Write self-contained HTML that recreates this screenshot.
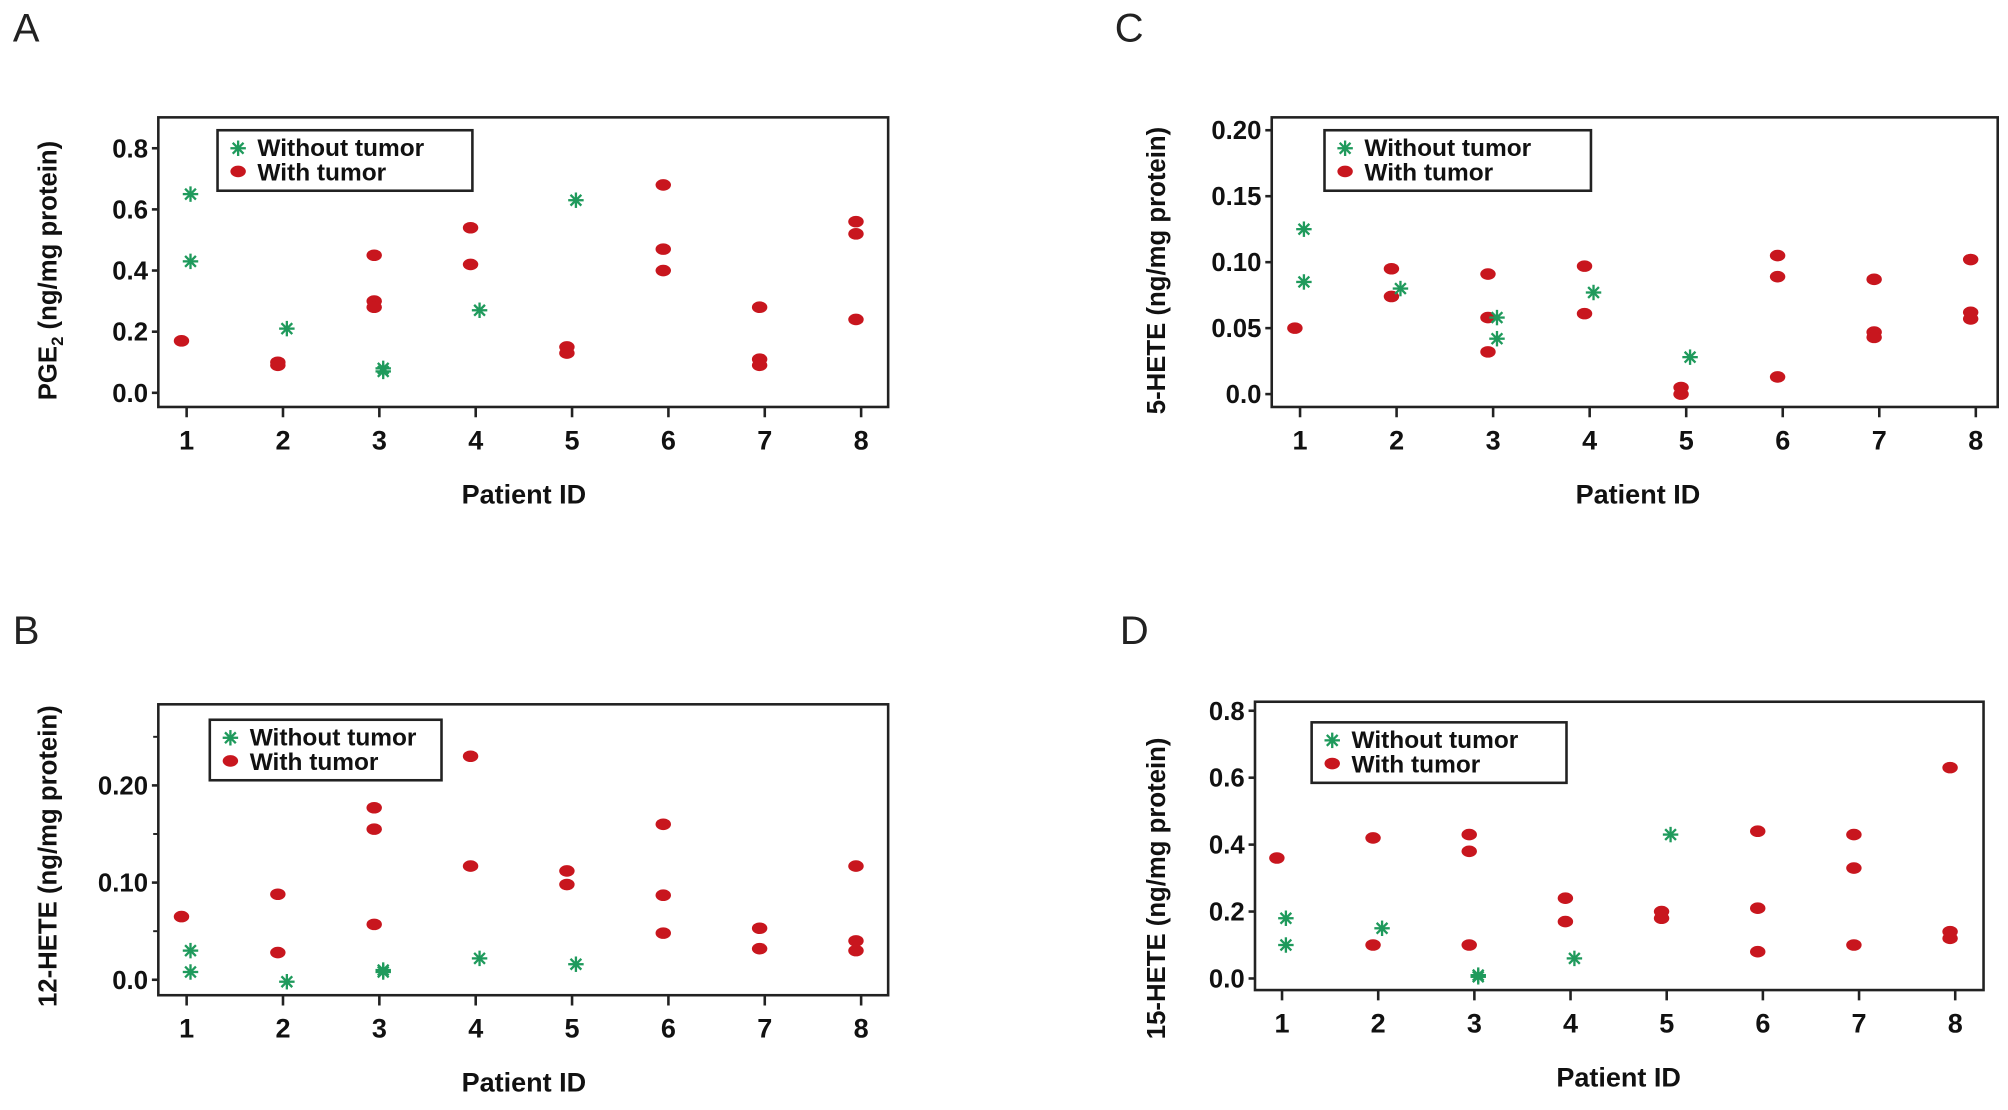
<!DOCTYPE html>
<html><head><meta charset="utf-8"><style>
html,body{margin:0;padding:0;background:#fff}
svg{display:block}
text{font-family:"Liberation Sans",sans-serif}
</style></head><body>
<svg id="fig" width="2008" height="1110" viewBox="0 0 1560 862" xmlns="http://www.w3.org/2000/svg"></svg>
<script>
const categories = [1,2,3,4,5,6,7,8];
// Panel A PGE2
const aWithoutX = [1,1,2,3,3,4,5];
const aWithoutY = [0.65,0.43,0.21,0.07,0.08,0.27,0.63];
const aWithX = [1,2,2,3,3,3,4,4,5,5,6,6,6,7,7,7,8,8,8];
const aWithY = [0.17,0.09,0.10,0.45,0.30,0.28,0.54,0.42,0.15,0.13,0.68,0.47,0.40,0.28,0.11,0.09,0.56,0.52,0.24];
const aTicks = [0.0,0.2,0.4,0.6,0.8];
const aTickLabels = ["0.0","0.2","0.4","0.6","0.8"];
// Panel B 12-HETE
const bWithoutX = [1,1,2,3,3,4,5];
const bWithoutY = [0.03,0.008,-0.002,0.008,0.01,0.022,0.016];
const bWithX = [1,2,2,3,3,3,4,4,5,5,6,6,6,7,7,8,8,8];
const bWithY = [0.065,0.088,0.028,0.177,0.155,0.057,0.23,0.117,0.112,0.098,0.16,0.087,0.048,0.053,0.032,0.117,0.04,0.03];
const bTicks = [0.0,0.10,0.20];
const bTickLabels = ["0.0","0.10","0.20"];
const bMinor = [0.05,0.15,0.25];
// Panel C 5-HETE
const cWithoutX = [1,1,2,3,3,4,5];
const cWithoutY = [0.125,0.085,0.08,0.058,0.042,0.077,0.028];
const cWithX = [1,2,2,3,3,3,4,4,5,5,6,6,6,7,7,7,8,8,8];
const cWithY = [0.05,0.095,0.074,0.091,0.058,0.032,0.097,0.061,0.005,0.0,0.105,0.089,0.013,0.087,0.047,0.043,0.102,0.062,0.057];
const cTicks = [0.0,0.05,0.10,0.15,0.20];
const cTickLabels = ["0.0","0.05","0.10","0.15","0.20"];
// Panel D 15-HETE
const dWithoutX = [1,1,2,3,3,4,5];
const dWithoutY = [0.18,0.10,0.15,0.01,0.005,0.06,0.43];
const dWithX = [1,2,2,3,3,3,4,4,5,5,6,6,6,7,7,7,8,8,8];
const dWithY = [0.36,0.42,0.10,0.43,0.38,0.10,0.24,0.17,0.20,0.18,0.44,0.21,0.08,0.43,0.33,0.10,0.63,0.14,0.12];
const dTicks = [0.0,0.2,0.4,0.6,0.8];
const dTickLabels = ["0.0","0.2","0.4","0.6","0.8"];

const NS="http://www.w3.org/2000/svg";
const svg=document.getElementById('fig');
function mk(tag,attrs,parent){const e=document.createElementNS(NS,tag);for(const k in attrs)e.setAttribute(k,attrs[k]);(parent||svg).appendChild(e);return e;}
const RED="#c8161e", GREEN="#1f9a5c";

function panel(cfg){
  const g=mk('g',{});
  
  
  const xs=v=>cfg.x1+(v-1)*(cfg.x8-cfg.x1)/7;
  const ys=v=>cfg.y0+(v-cfg.v0)*(cfg.yt-cfg.y0)/(cfg.vt-cfg.v0);
  const lt=mk('text',{x:cfg.lx,y:cfg.ly,'font-size':31,fill:'#222'},g); lt.textContent=cfg.letter;
  
  
  const box=mk('rect',{x:cfg.bl,y:cfg.bt,width:cfg.br-cfg.bl,height:cfg.bb-cfg.bt,fill:'none',stroke:'#222','stroke-width':2},g);
  
  
  cfg.ticks.forEach((t,i)=>{
    const y=ys(t);
    mk('line',{x1:cfg.bl-5,x2:cfg.bl,y1:y,y2:y,stroke:'#222','stroke-width':2},g);
    const tx=mk('text',{x:cfg.bl-8,y:y+7,'font-size':20,'font-weight':'bold','text-anchor':'end',fill:'#111'},g);
    tx.textContent=cfg.labels[i];
    
    
  });
  (cfg.minor||[]).forEach(t=>{const y=ys(t);mk('line',{x1:cfg.bl-4,x2:cfg.bl,y1:y,y2:y,stroke:'#222','stroke-width':1.5},g);});
  categories.forEach(c=>{
    const x=xs(c);
    mk('line',{x1:x,x2:x,y1:cfg.bb,y2:cfg.bb+8,stroke:'#222','stroke-width':2},g);
    const tx=mk('text',{x:x,y:cfg.bb+33,'font-size':21,'font-weight':'bold','text-anchor':'middle',fill:'#111'},g);
    tx.textContent=c;
    
    
  });
  const xt=mk('text',{x:(cfg.x1+cfg.x8)/2,y:cfg.bb+75,'font-size':21,'font-weight':'bold','text-anchor':'middle',fill:'#111'},g);
  xt.textContent='Patient ID';
  
  
  const yt=mk('text',{x:0,y:0,'font-size':20,'font-weight':'bold','text-anchor':'middle',fill:'#111',transform:`translate(${cfg.ytx},${cfg.yty}) rotate(-90)`},g);
  yt.innerHTML=cfg.ytitle;
  
  
  cfg.withX.forEach((c,i)=>{
    const d=mk('ellipse',{cx:xs(c)-4,cy:ys(cfg.withY[i]),rx:6,ry:4.5,fill:RED},g);
    
    
  });
  cfg.woX.forEach((c,i)=>{
    const s=star(xs(c)+3,ys(cfg.woY[i]),g);
    
    
  });
  // legend
  const L=cfg.leg;
  const lg=mk('g',{},g);
  
  
  mk('rect',{x:L[0],y:L[1],width:L[2],height:47,fill:'#fff',stroke:'#222','stroke-width':2},lg);
  star(L[0]+16,L[1]+14,lg);
  mk('ellipse',{cx:L[0]+16,cy:L[1]+32,rx:6,ry:4.5,fill:RED},lg);
  const t1=mk('text',{x:L[0]+31,y:L[1]+20,'font-size':19,'font-weight':'bold',fill:'#111'},lg); t1.textContent='Without tumor';
  
  
  const t2=mk('text',{x:L[0]+31,y:L[1]+39,'font-size':19,'font-weight':'bold',fill:'#111'},lg); t2.textContent='With tumor';
  
  
}
function star(x,y,parent){
  const s=mk('g',{stroke:GREEN,'stroke-width':1.8},parent);
  const r=6;
  [[r,0],[0,r],[r*0.7,r*0.7],[r*0.7,-r*0.7]].forEach(([dx,dy])=>mk('line',{x1:x-dx,y1:y-dy,x2:x+dx,y2:y+dy},s));
  return s;
}
panel({id:'a',letter:'A',lx:10,ly:32,bl:123,bt:91,br:690,bb:316,x1:145,x8:669,y0:305,v0:0,yt:115,vt:0.8,
  ticks:aTicks,labels:aTickLabels,ytitle:'PGE<tspan font-size="13" dy="5">2</tspan><tspan dy="-5"> (ng/mg protein)</tspan>',ytx:44,yty:210,
  woX:aWithoutX,woY:aWithoutY,withX:aWithX,withY:aWithY,leg:[169,101,198]});
panel({id:'b',letter:'B',lx:10,ly:500,bl:123,bt:547,br:690,bb:773,x1:145,x8:669,y0:761,v0:0,yt:610,vt:0.2,
  ticks:bTicks,labels:bTickLabels,minor:bMinor,ytitle:'12-HETE (ng/mg protein)',ytx:44,yty:665,
  woX:bWithoutX,woY:bWithoutY,withX:bWithX,withY:bWithY,leg:[163,559,180]});
panel({id:'c',letter:'C',lx:866,ly:32,bl:988,bt:91,br:1552,bb:316,x1:1010,x8:1535,y0:306,v0:0,yt:101,vt:0.2,
  ticks:cTicks,labels:cTickLabels,ytitle:'5-HETE (ng/mg protein)',ytx:905,yty:210,
  woX:cWithoutX,woY:cWithoutY,withX:cWithX,withY:cWithY,leg:[1029,101,207]});
panel({id:'d',letter:'D',lx:870,ly:500,bl:975,bt:545,br:1541,bb:769,x1:996,x8:1519,y0:760,v0:0,yt:552,vt:0.8,
  ticks:dTicks,labels:dTickLabels,ytitle:'15-HETE (ng/mg protein)',ytx:905,yty:690,
  woX:dWithoutX,woY:dWithoutY,withX:dWithX,withY:dWithY,leg:[1019,561,198]});
</script>
</body></html>
